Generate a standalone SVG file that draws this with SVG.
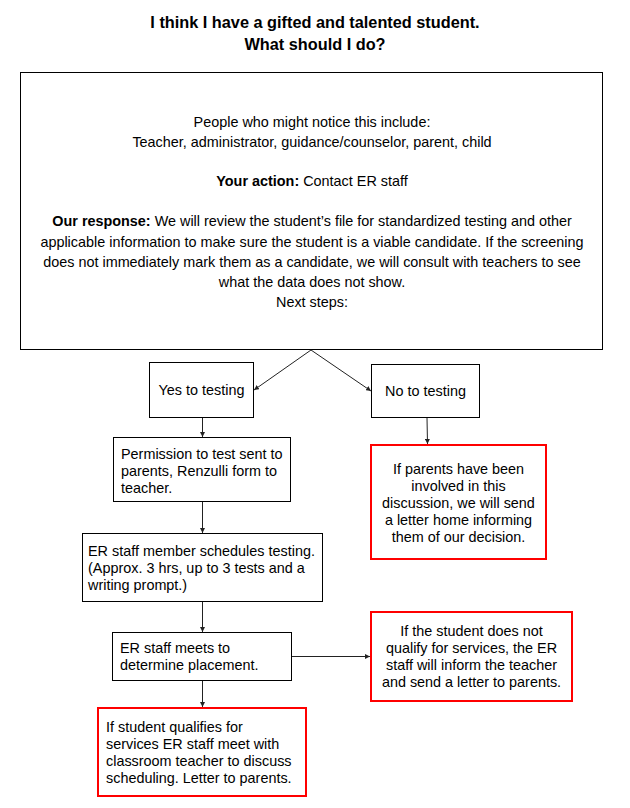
<svg xmlns="http://www.w3.org/2000/svg" width="630" height="808" viewBox="0 0 630 808">
<defs>
<style>
text{font-family:"Liberation Sans",Arial,sans-serif;font-size:14.4px;fill:#000}
.title{font-size:16.3px;font-weight:bold;text-anchor:middle}
.c{text-anchor:middle}
.b{font-weight:bold}
.box{fill:#fff;stroke:#000;stroke-width:1}
.red{fill:#fff;stroke:#ff0000;stroke-width:2}
.conn{stroke:#222;stroke-width:1;fill:none;marker-end:url(#ah)}
</style>
<marker id="ah" viewBox="0 0 8 8" refX="8" refY="4" markerWidth="5" markerHeight="5" markerUnits="userSpaceOnUse" orient="auto">
<path d="M0,0 L8,4 L0,8 z" fill="#222"/>
</marker>
</defs>
<rect width="630" height="808" fill="#fff"/>
<g id="title">
<text class="title" x="315" y="27.5">I think I have a gifted and talented student.</text>
<text class="title" x="315" y="49.5">What should I do?</text>
</g>
<g id="main">
<rect class="box" x="20.5" y="72.5" width="582" height="277"/>
<text class="c" x="312" y="127">People who might notice this include:</text>
<text class="c" x="312" y="147">Teacher, administrator, guidance/counselor, parent, child</text>
<text class="c" x="312" y="186"><tspan class="b">Your action:</tspan> Contact ER staff</text>
<text class="c" x="312" y="226"><tspan class="b">Our response:</tspan> We will review the student’s file for standardized testing and other</text>
<text class="c" x="312" y="247">applicable information to make sure the student is a viable candidate. If the screening</text>
<text class="c" x="312" y="267">does not immediately mark them as a candidate, we will consult with teachers to see</text>
<text class="c" x="312" y="287">what the data does not show.</text>
<text class="c" x="312" y="307">Next steps:</text>
</g>
<g id="yes">
<rect class="box" x="149.5" y="362.5" width="104" height="55"/>
<text class="c" x="201.5" y="395">Yes to testing</text>
</g>
<g id="no">
<rect class="box" x="371.5" y="364.5" width="108" height="53"/>
<text class="c" x="425.5" y="396">No to testing</text>
</g>
<g id="permission">
<rect class="box" x="113.5" y="437.5" width="177" height="64"/>
<text x="121" y="459">Permission to test sent to</text>
<text x="121" y="476">parents, Renzulli form to</text>
<text x="121" y="493">teacher.</text>
</g>
<g id="no-result">
<rect class="red" x="371" y="445" width="175" height="114"/>
<text class="c" x="458.5" y="474">If parents have been</text>
<text class="c" x="458.5" y="491">involved in this</text>
<text class="c" x="458.5" y="508">discussion, we will send</text>
<text class="c" x="458.5" y="525">a letter home informing</text>
<text class="c" x="458.5" y="542">them of our decision.</text>
</g>
<g id="schedules">
<rect class="box" x="82.5" y="533.5" width="240" height="68"/>
<text x="88" y="556">ER staff member schedules testing.</text>
<text x="88" y="573">(Approx. 3 hrs, up to 3 tests and a</text>
<text x="88" y="590">writing prompt.)</text>
</g>
<g id="meets">
<rect class="box" x="112.5" y="632.5" width="179" height="48"/>
<text x="120" y="653">ER staff meets to</text>
<text x="120" y="670">determine placement.</text>
</g>
<g id="not-qualify">
<rect class="red" x="371" y="612" width="201" height="89"/>
<text class="c" x="471.5" y="636">If the student does not</text>
<text class="c" x="471.5" y="653">qualify for services, the ER</text>
<text class="c" x="471.5" y="670">staff will inform the teacher</text>
<text class="c" x="471.5" y="687">and send a letter to parents.</text>
</g>
<g id="qualifies">
<rect class="red" x="98" y="708" width="208" height="88"/>
<text x="106" y="732">If student qualifies for</text>
<text x="106" y="749">services ER staff meet with</text>
<text x="106" y="766">classroom teacher to discuss</text>
<text x="106" y="783">scheduling. Letter to parents.</text>
</g>
<g id="connectors">
<line class="conn" x1="311" y1="350" x2="254" y2="390"/>
<line class="conn" x1="311" y1="350" x2="371" y2="391"/>
<line class="conn" x1="202.5" y1="418" x2="202.5" y2="437"/>
<line class="conn" x1="427" y1="418" x2="427.5" y2="444"/>
<line class="conn" x1="202.5" y1="502" x2="202.5" y2="533"/>
<line class="conn" x1="202.5" y1="602" x2="202.5" y2="632"/>
<line class="conn" x1="292" y1="656.5" x2="370" y2="656.5"/>
<line class="conn" x1="202.5" y1="681" x2="202.5" y2="707"/>
</g>
</svg>
